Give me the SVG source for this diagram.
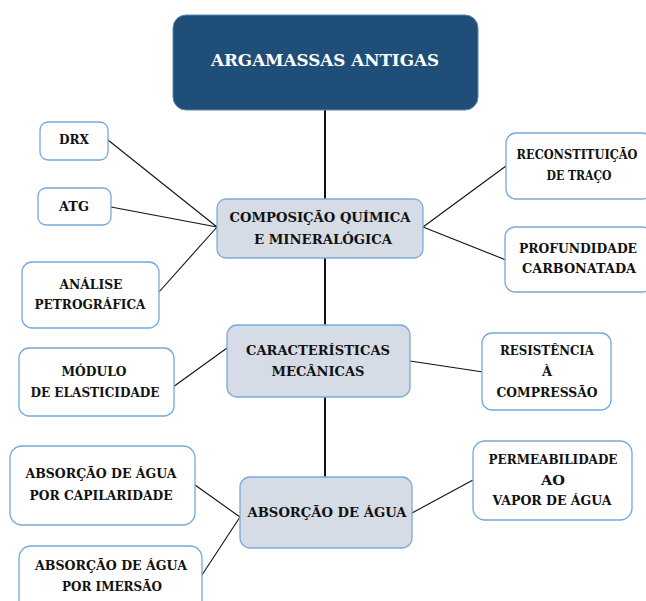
<svg xmlns="http://www.w3.org/2000/svg" width="646" height="601" viewBox="0 0 646 601">
  <style>
    .leaf { fill: #ffffff; stroke: #74a8dc; stroke-width: 1.3; }
    .hub { fill: #d6dce5; stroke: #7aaadc; stroke-width: 1.3; }
    .root { fill: #1f4e79; stroke: #5a86b8; stroke-width: 1; }
    text { font-family: 'DejaVu Serif', 'Liberation Serif', serif; font-weight: bold; }
    .t { font-size: 13px; fill: #111111; text-anchor: middle; }
    .th { font-size: 13.5px; }
    .tr { font-size: 16px; fill: #ffffff; text-anchor: middle; }
    .link { stroke: #111111; stroke-width: 1.1; fill: none; }
    .spine { stroke: #111111; stroke-width: 2; fill: none; }
  </style>
  <rect width="646" height="601" fill="#ffffff"/>

  <g id="connectors">
    <line class="spine" x1="325" y1="110" x2="325" y2="477"/>
    <line class="link" x1="108" y1="140" x2="217" y2="227"/>
    <line class="link" x1="111" y1="207" x2="217" y2="227"/>
    <line class="link" x1="159" y1="292" x2="217" y2="227"/>
    <line class="link" x1="423" y1="227" x2="506" y2="166"/>
    <line class="link" x1="423" y1="227" x2="506" y2="260"/>
    <line class="link" x1="173" y1="387" x2="227" y2="348"/>
    <line class="link" x1="410" y1="361" x2="483" y2="372"/>
    <line class="link" x1="195" y1="485" x2="240" y2="517"/>
    <line class="link" x1="202" y1="575" x2="240" y2="517"/>
    <line class="link" x1="412" y1="513" x2="473" y2="480"/>
  </g>

  <g id="root">
    <rect class="root" x="173" y="15" width="305" height="95" rx="13"/>
    <text class="tr" x="325" y="66" textLength="228" lengthAdjust="spacingAndGlyphs">ARGAMASSAS ANTIGAS</text>
  </g>

  <g id="composicao">
    <rect class="hub" x="217" y="199" width="206" height="59" rx="9"/>
    <text class="t th" x="320" y="222" textLength="181" lengthAdjust="spacingAndGlyphs">COMPOSIÇÃO QUÍMICA</text>
    <text class="t th" x="323" y="244" textLength="138" lengthAdjust="spacingAndGlyphs">E MINERALÓGICA</text>
  </g>

  <g id="drx">
    <rect class="leaf" x="40" y="122" width="68" height="38" rx="8"/>
    <text class="t" x="74" y="144" textLength="30" lengthAdjust="spacingAndGlyphs">DRX</text>
  </g>

  <g id="atg">
    <rect class="leaf" x="38" y="188" width="73" height="37" rx="8"/>
    <text class="t" x="74" y="211" textLength="30" lengthAdjust="spacingAndGlyphs">ATG</text>
  </g>

  <g id="petrografica">
    <rect class="leaf" x="22" y="262" width="137" height="66" rx="10"/>
    <text class="t" x="91" y="289" textLength="63" lengthAdjust="spacingAndGlyphs">ANÁLISE</text>
    <text class="t" x="90" y="309" textLength="111" lengthAdjust="spacingAndGlyphs">PETROGRÁFICA</text>
  </g>

  <g id="reconstituicao">
    <rect class="leaf" x="506" y="133" width="146" height="66" rx="10"/>
    <text class="t" x="577" y="159" font-size="12" style="font-size:12px" textLength="121" lengthAdjust="spacingAndGlyphs">RECONSTITUIÇÃO</text>
    <text class="t" x="579" y="180" textLength="65" lengthAdjust="spacingAndGlyphs">DE TRAÇO</text>
  </g>

  <g id="profundidade">
    <rect class="leaf" x="505" y="227" width="147" height="65" rx="10"/>
    <text class="t" x="578" y="253" textLength="118" lengthAdjust="spacingAndGlyphs">PROFUNDIDADE</text>
    <text class="t" x="579" y="273" textLength="114" lengthAdjust="spacingAndGlyphs">CARBONATADA</text>
  </g>

  <g id="mecanicas">
    <rect class="hub" x="227" y="325" width="183" height="72" rx="10"/>
    <text class="t th" x="318" y="355" textLength="144" lengthAdjust="spacingAndGlyphs">CARACTERÍSTICAS</text>
    <text class="t th" x="318" y="376" textLength="93" lengthAdjust="spacingAndGlyphs">MECÂNICAS</text>
  </g>

  <g id="modulo">
    <rect class="leaf" x="19" y="348" width="155" height="68" rx="10"/>
    <text class="t" x="94" y="376" textLength="65" lengthAdjust="spacingAndGlyphs">MÓDULO</text>
    <text class="t" x="95" y="397" textLength="129" lengthAdjust="spacingAndGlyphs">DE ELASTICIDADE</text>
  </g>

  <g id="resistencia">
    <rect class="leaf" x="482" y="333" width="129" height="77" rx="10"/>
    <text class="t" x="547" y="355" textLength="94" lengthAdjust="spacingAndGlyphs">RESISTÊNCIA</text>
    <text class="t" x="547" y="376">À</text>
    <text class="t" x="547" y="397" textLength="101" lengthAdjust="spacingAndGlyphs">COMPRESSÃO</text>
  </g>

  <g id="absorcao">
    <rect class="hub" x="240" y="477" width="172" height="71" rx="10"/>
    <text class="t th" x="327" y="517" textLength="159" lengthAdjust="spacingAndGlyphs">ABSORÇÃO DE ÁGUA</text>
  </g>

  <g id="capilaridade">
    <rect class="leaf" x="10" y="446" width="185" height="79" rx="12"/>
    <text class="t" x="101" y="478" textLength="151" lengthAdjust="spacingAndGlyphs">ABSORÇÃO DE ÁGUA</text>
    <text class="t" x="101" y="500" textLength="143" lengthAdjust="spacingAndGlyphs">POR CAPILARIDADE</text>
  </g>

  <g id="imersao">
    <rect class="leaf" x="19" y="546" width="183" height="70" rx="12"/>
    <text class="t" x="111" y="570" textLength="152" lengthAdjust="spacingAndGlyphs">ABSORÇÃO DE ÁGUA</text>
    <text class="t" x="112" y="591" textLength="100" lengthAdjust="spacingAndGlyphs">POR IMERSÃO</text>
  </g>

  <g id="permeabilidade">
    <rect class="leaf" x="473" y="441" width="159" height="79" rx="12"/>
    <text class="t" x="553" y="464" textLength="129" lengthAdjust="spacingAndGlyphs">PERMEABILIDADE</text>
    <text class="t" x="553" y="485" textLength="24" lengthAdjust="spacingAndGlyphs">AO</text>
    <text class="t" x="552" y="505" textLength="119" lengthAdjust="spacingAndGlyphs">VAPOR DE ÁGUA</text>
  </g>
</svg>
